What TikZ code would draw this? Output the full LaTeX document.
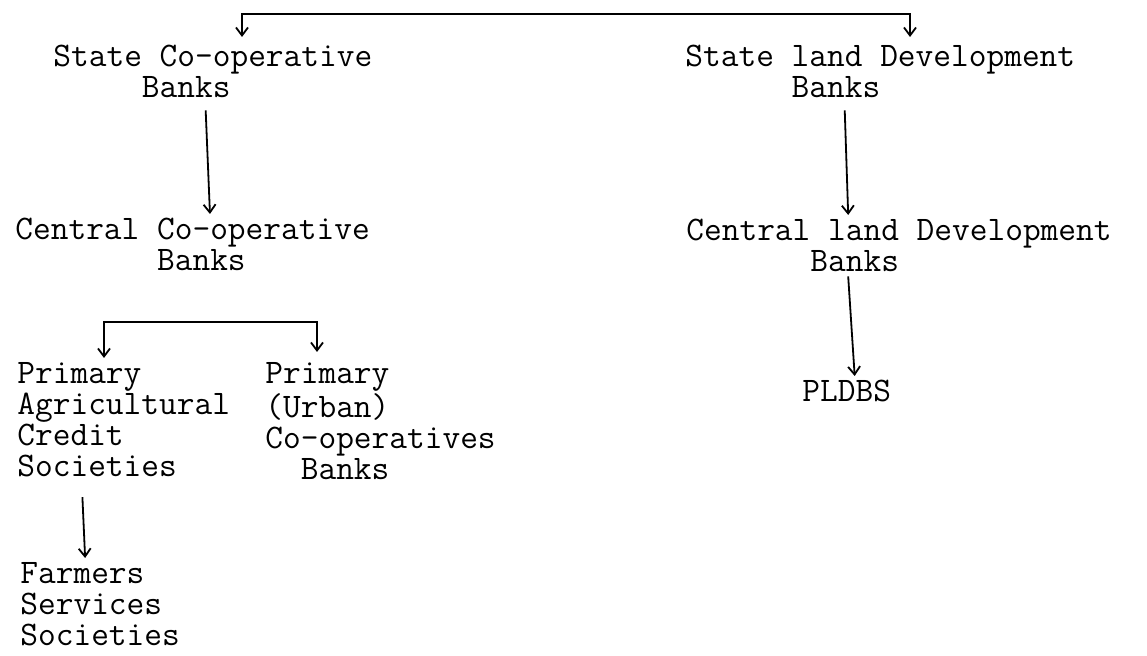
\documentclass[tikz,border=0pt]{standalone}
\usepackage{fontspec}
\usetikzlibrary{arrows.meta}
% blank space of n typewriter characters
\newcommand{\skipch}[1]{\hspace*{#1\fontcharwd\font`M}}
\tikzset{
	box/.style={align=left, anchor=north west, inner sep=2pt,
		font=\ttfamily\fontsize{17.2pt}{15.5pt}\selectfont},
	link/.style={line width=0.9pt},
}
\begin{document}
\begin{tikzpicture}[x=0.5pt, y=-0.5pt, >={Straight Barb[length=4pt,width=6pt]}]
			\useasboundingbox (0,0) rectangle (1147,656);
			% co-operative credit side
			\node[box] (scb)  at (49,41)   {State Co-operative\\\skipch{5}Banks};
			\node[box] (ccb)  at (11,214)  {Central Co-operative\\\skipch{8}Banks};
			\node[box] (pacs) at (13,358)  {Primary\\Agricultural\\Credit\\Societies};
			\node[box] (pucb) at (261,358) {Primary\\(Urban)\\Co-operatives\\\skipch{2}Banks};
			\node[box] (fss)  at (16,558)  {Farmers\\Services\\Societies};
			% land development side
			\node[box] (sldb)  at (681,41)  {State land Development\\\skipch{6}Banks};
			\node[box] (cldb)  at (682,215) {Central land Development\\\skipch{7}Banks};
			\node[box] (pldbs) at (798,376) {PLDBS};
			% brackets
			\coordinate (topL) at (242,14);
			\coordinate (topR) at (910,14);
			\draw[link, <->, shorten <=2pt, shorten >=2pt] (topL |- scb.north) -- (topL) -- (topR) -- (topR |- sldb.north);
			\coordinate (splitL) at (104,322);
			\coordinate (splitR) at (317,322);
			\draw[link, <->, shorten >=3pt] (splitL |- pacs.north) -- (splitL) -- (splitR) -- (splitR |- pucb.north);
			% downward links
			\draw[link, ->, shorten <=4pt] ([xshift=-3.75pt]scb.south) -- ([xshift=8.7pt]ccb.north);
			\draw[link, ->, shorten <=4pt] ([xshift=-17.9pt]sldb.south) -- ([xshift=-25.4pt]cldb.north);
			\draw[link, ->] ([xshift=-25.4pt]cldb.south) -- ([xshift=4pt]pldbs.north);
			\draw[link, ->, shorten <=8pt] ([xshift=-21pt]pacs.south) -- ([xshift=-7.5pt]fss.north);
\end{tikzpicture}
\end{document}
